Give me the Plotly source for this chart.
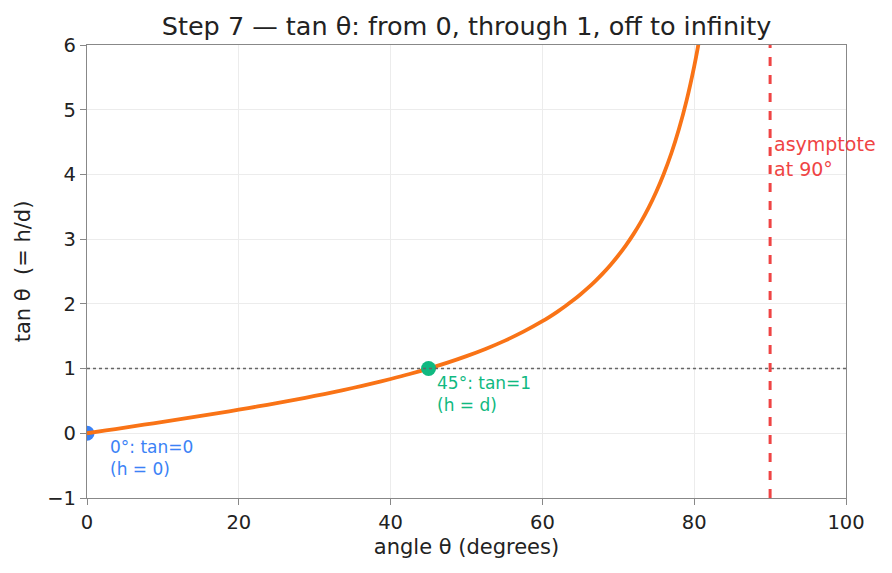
import plotly.graph_objects as go

# Curve samples (angle in degrees, tan value)
angles = [0, 2.5, 5, 7.5, 10, 12.5, 15, 17.5, 20, 22.5, 25, 27.5, 30, 32.5, 35,
          37.5, 40, 42.5, 45, 47.5, 50, 52.5, 55, 57.5, 60, 61, 62, 63, 64, 65,
          66, 67, 68, 69, 70, 71, 72, 73, 74, 75, 76, 77, 78, 79, 80, 80.5, 81, 82]
tan_vals = [0.0, 0.044, 0.087, 0.132, 0.176, 0.222, 0.268, 0.315, 0.364, 0.414,
            0.466, 0.521, 0.577, 0.637, 0.700, 0.767, 0.839, 0.916, 1.0, 1.091,
            1.192, 1.303, 1.428, 1.570, 1.732, 1.804, 1.881, 1.963, 2.050, 2.145,
            2.246, 2.356, 2.475, 2.605, 2.747, 2.904, 3.078, 3.271, 3.487, 3.732,
            4.011, 4.331, 4.705, 5.145, 5.671, 5.976, 6.314, 7.115]

pt_x = [0, 45]
pt_y = [0, 1]
pt_labels = ["0°: tan=0<br>(h = 0)", "45°: tan=1<br>(h = d)"]
asym_x = 90
asym_label = "asymptote<br>at 90°"

ORANGE = "#f97316"
BLUE = "#3b82f6"
GREEN = "#10b981"
RED = "#ef4444"
FONT = "DejaVu Sans"
TXT = "#222222"

fig = go.Figure()
fig.add_trace(go.Scatter(x=[pt_x[0]], y=[pt_y[0]], mode="markers",
                         marker=dict(size=15, color=BLUE), showlegend=False))
fig.add_trace(go.Scatter(x=angles, y=tan_vals, mode="lines",
                         line=dict(color=ORANGE, width=3.8, shape="spline", smoothing=0.8),
                         showlegend=False))
fig.add_trace(go.Scatter(x=[pt_x[1]], y=[pt_y[1]], mode="markers",
                         marker=dict(size=15, color=GREEN), showlegend=False))

# dotted reference line at tan = 1
fig.add_shape(type="line", xref="paper", x0=0, x1=1, yref="y", y0=1, y1=1,
              line=dict(color="#666666", width=1.4, dash="dot"))
# asymptote
fig.add_shape(type="line", xref="x", x0=asym_x, x1=asym_x, yref="y", y0=-1, y1=6,
              line=dict(color=RED, width=3, dash="dash"))

fig.add_annotation(x=pt_x[0], y=pt_y[0], text=pt_labels[0], showarrow=False,
                   xanchor="left", yanchor="top", xshift=21, yshift=-2, align="left",
                   font=dict(family=FONT, size=17, color=BLUE))
fig.add_annotation(x=pt_x[1], y=pt_y[1], text=pt_labels[1], showarrow=False,
                   xanchor="left", yanchor="top", xshift=6, yshift=-2, align="left",
                   font=dict(family=FONT, size=17, color=GREEN))
fig.add_annotation(x=asym_x, y=4.27, text=asym_label, showarrow=False,
                   xanchor="left", yanchor="middle", xshift=2, align="left",
                   font=dict(family=FONT, size=19, color=RED))

axis_common = dict(showline=True, linecolor="#888888", linewidth=1.3, mirror=True,
                   ticks="outside", ticklen=6, tickcolor="#888888",
                   showgrid=True, gridcolor="#ececec", gridwidth=1, zeroline=False,
                   tickfont=dict(family=FONT, size=19.5, color=TXT))

fig.update_xaxes(range=[0, 100], dtick=20, title=dict(text="angle θ (degrees)",
                 font=dict(family=FONT, size=21, color=TXT), standoff=6),
                 **axis_common)
fig.update_yaxes(range=[-1, 6], dtick=1, title=dict(text="tan θ  (= h/d)",
                 font=dict(family=FONT, size=21, color=TXT), standoff=10),
                 **axis_common)

fig.update_layout(
    width=892, height=573,
    margin=dict(l=87, r=46, t=45, b=75),
    paper_bgcolor="white", plot_bgcolor="white",
    title=dict(text="Step 7 — tan θ: from 0, through 1, off to infinity",
               x=0.5, xref="paper", xanchor="center", y=0.955, yanchor="middle",
               font=dict(family=FONT, size=25.5, color=TXT)),
    showlegend=False,
)

fig.write_html("out.html")
